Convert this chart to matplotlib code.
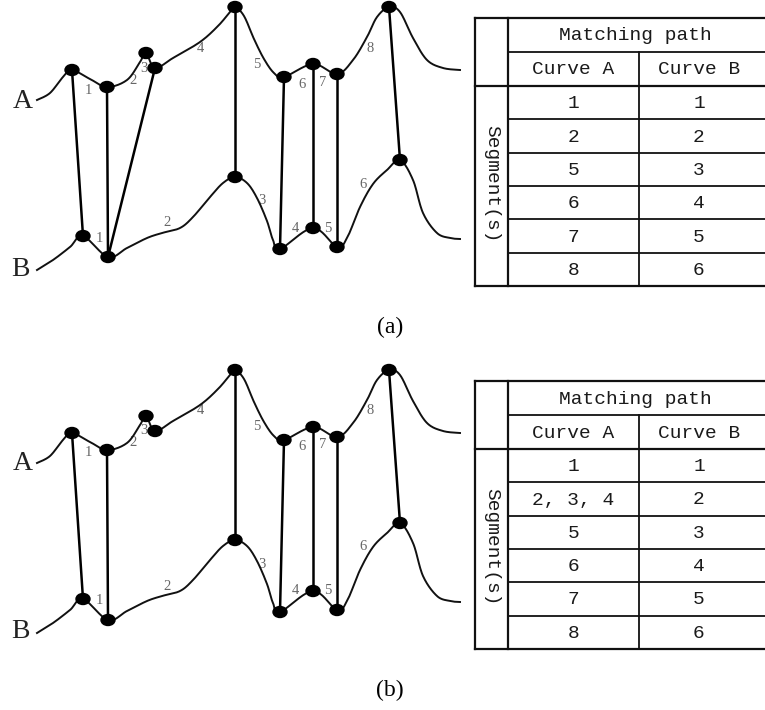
import numpy as np
import matplotlib.pyplot as plt
from matplotlib.patches import Ellipse

# shape of curve A and curve B (picture pixels, panel a)
curve_a_x = [37, 50, 63, 72, 90, 107, 127, 140, 146, 155, 173, 200, 218, 230, 235,
             244, 254, 264, 274, 284, 313, 337, 353, 367, 377, 389, 400, 413, 427, 443, 460]
curve_a_y = [100, 93, 77, 70, 79, 87, 80, 62, 53, 68, 58, 42, 26, 12, 7,
             16, 39, 59, 73, 77, 64, 74, 60, 37, 17, 7, 12, 38, 60, 68, 70]
curve_b_x = [37, 53, 70, 83, 108, 127, 147, 162, 180, 193, 210, 223, 235, 247, 257,
             267, 273, 280, 313, 337, 347, 360, 373, 387, 400, 413, 423, 437, 450, 460]
curve_b_y = [270, 260, 247, 236, 257, 248, 238, 233, 228, 217, 197, 183, 177, 183, 198,
             221, 240, 249, 228, 247, 238, 207, 184, 170, 160, 180, 213, 233, 238, 239]

# segment end points on each curve
a_keys_x = [72, 107, 146, 155, 235, 284, 313, 337, 389]
a_keys_y = [70, 87, 53, 68, 7, 77, 64, 74, 7]
b_keys_x = [83, 108, 235, 280, 313, 337, 400]
b_keys_y = [236, 257, 177, 249, 228, 247, 160]

# matched points (index on A, index on B)
links_a = [(0, 0), (1, 1), (3, 1), (4, 2), (5, 3), (6, 4), (7, 5), (8, 6)]
links_b = [(0, 0), (1, 1), (4, 2), (5, 3), (6, 4), (7, 5), (8, 6)]

# segment numbers
a_seg_text = ["1", "2", "3", "4", "5", "6", "7", "8"]
a_seg_x = [88, 133, 144, 200, 257, 302, 323, 370]
a_seg_y = [90, 80, 68, 48, 64, 84, 82, 48]
b_seg_text = ["1", "2", "3", "4", "5", "6"]
b_seg_x = [99, 167, 262, 295, 328, 363]
b_seg_y = [238, 223, 201, 228, 228, 184]

# tables
col_a_a = ["1", "2", "5", "6", "7", "8"]
col_a_b = ["1", "2, 3, 4", "5", "6", "7", "8"]
col_b = ["1", "2", "3", "4", "5", "6"]


def catmull(xs, ys, n=20):
    p = np.column_stack([xs, ys]).astype(float)
    p = np.vstack([p[0], p, p[-1]])
    out = []
    t = np.linspace(0, 1, n, endpoint=False)[:, None]
    for i in range(1, len(p) - 2):
        p0, p1, p2, p3 = p[i - 1], p[i], p[i + 1], p[i + 2]
        m1 = (p2 - p0) / 2
        m2 = (p3 - p1) / 2
        h00 = 2 * t**3 - 3 * t**2 + 1
        h10 = t**3 - 2 * t**2 + t
        h01 = -2 * t**3 + 3 * t**2
        h11 = t**3 - t**2
        out.append(h00 * p1 + h10 * m1 + h01 * p2 + h11 * m2)
    out.append(p[-2][None, :])
    out = np.vstack(out)
    return out[:, 0], out[:, 1]


def draw_panel(ax, dy, links, col_a, caption):
    ax_, ay_ = catmull(curve_a_x, curve_a_y)
    bx_, by_ = catmull(curve_b_x, curve_b_y)
    ax.plot(ax_, ay_ + dy, color="#111111", lw=1.4, zorder=2)
    ax.plot(bx_, by_ + dy, color="#111111", lw=1.4, zorder=2)

    for ia, ib in links:
        ax.plot([a_keys_x[ia], b_keys_x[ib]], [a_keys_y[ia] + dy, b_keys_y[ib] + dy],
                color="black", lw=1.8, zorder=2)

    for x, y in zip(a_keys_x + b_keys_x, a_keys_y + b_keys_y):
        ax.add_patch(Ellipse((x, y + dy), 14, 11, color="black", zorder=3))

    for s, x, y in zip(a_seg_text, a_seg_x, a_seg_y):
        ax.text(x, y + dy, s, fontsize=10.5, color="#666666", family="Liberation Serif",
                ha="center", va="center", zorder=1)
    for s, x, y in zip(b_seg_text, b_seg_x, b_seg_y):
        ax.text(x, y + dy, s, fontsize=10.5, color="#666666", family="Liberation Serif",
                ha="center", va="center", zorder=1)

    ax.text(23, 101 + dy, "A", fontsize=20, family="Liberation Serif", color="#222222",
            ha="center", va="center")
    ax.text(20, 269 + dy, "B", fontsize=20, family="Liberation Serif", color="#222222",
            ha="center", va="center")

    # table
    x0, x1, x2, x3 = 475, 508, 639, 765
    top = 18 + dy
    h1 = 52 + dy
    h2 = 86 + dy
    rows = np.linspace(h2, 286 + dy, len(col_b) + 1)
    lc = "#111111"
    ax.plot([x0, x3], [top, top], color=lc, lw=1.6)
    ax.plot([x1, x3], [h1, h1], color=lc, lw=1.3)
    ax.plot([x0, x3], [h2, h2], color=lc, lw=1.6)
    for r in rows[1:-1]:
        ax.plot([x1, x3], [r, r], color=lc, lw=1.3)
    ax.plot([x0, x3], [rows[-1], rows[-1]], color=lc, lw=1.6)
    ax.plot([x0, x0], [top, rows[-1]], color=lc, lw=1.6)
    ax.plot([x1, x1], [top, rows[-1]], color=lc, lw=1.6)
    ax.plot([x2, x2], [h1, rows[-1]], color=lc, lw=1.3)

    mono = "Liberation Mono"
    tc = "#1a1a1a"
    fs = 14
    ax.text((x1 + x3) / 2 - 1, (top + h1) / 2 + 1, "Matching path", family=mono, fontsize=fs,
            color=tc, ha="center", va="center")
    ax.text((x1 + x2) / 2, (h1 + h2) / 2 + 1, "Curve A", family=mono, fontsize=fs,
            color=tc, ha="center", va="center")
    ax.text((x2 + x3) / 2 - 3, (h1 + h2) / 2 + 1, "Curve B", family=mono, fontsize=fs,
            color=tc, ha="center", va="center")
    ax.text((x0 + x1) / 2, (h2 + rows[-1]) / 2 - 2, "Segment(s)", family=mono, fontsize=fs,
            color=tc, ha="center", va="center", rotation=270)
    for i in range(len(col_b)):
        yc = (rows[i] + rows[i + 1]) / 2 + 1
        ax.text((x1 + x2) / 2, yc, col_a[i], family=mono, fontsize=fs, color=tc,
                ha="center", va="center")
        ax.text((x2 + x3) / 2 - 3, yc, col_b[i], family=mono, fontsize=fs, color=tc,
                ha="center", va="center")

    ax.text(390, 327 + dy, caption, family="Liberation Serif", fontsize=17, color="black",
            ha="center", va="center")


fig = plt.figure(figsize=(7.65, 7.10), dpi=100)
ax = fig.add_axes([0, 0, 1, 1])
ax.set_xlim(0, 765)
ax.set_ylim(710, 0)
ax.axis("off")

draw_panel(ax, 0, links_a, col_a_a, "(a)")
draw_panel(ax, 363, links_b, col_a_b, "(b)")

fig.savefig("out.png", dpi=100)
